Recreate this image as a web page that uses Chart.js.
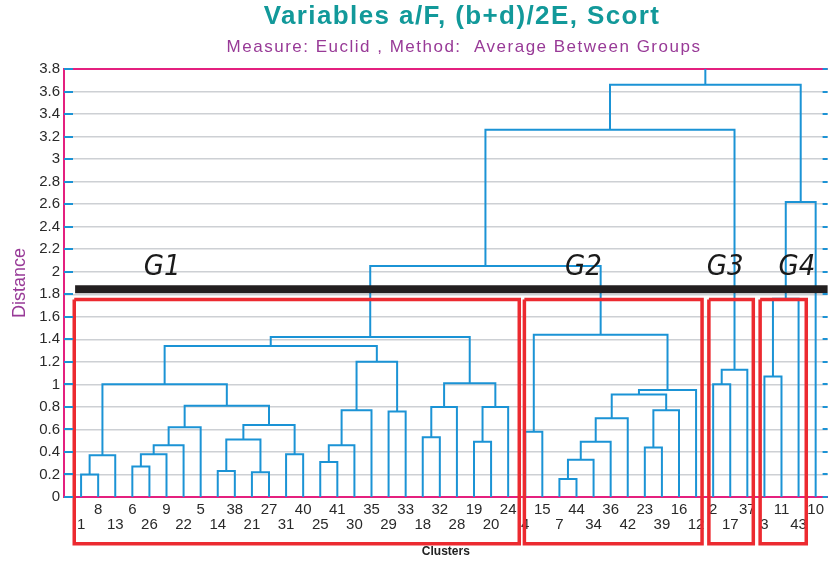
<!DOCTYPE html>
<html>
<head>
<meta charset="utf-8">
<title>Dendrogram</title>
<script src="https://cdn.jsdelivr.net/npm/chart.js@4.4.1/dist/chart.umd.min.js"></script>
<style>
  html, body { margin: 0; padding: 0; background: #fff; }
  canvas { display: block; }
</style>
</head>
<body>
<canvas id="myDendrogram" width="830" height="563"></canvas>
<script>
// leaf order along the bottom (cases)
const leaves = [1, 8, 13, 6, 26, 9, 22, 5, 14, 38, 21, 27, 31, 40, 25, 41, 30, 35, 29, 33,
  18, 32, 28, 19, 20, 24, 4, 15, 7, 44, 34, 36, 42, 23, 39, 16, 12, 2, 17, 37, 3, 11, 43, 10];

// merge steps: positive = case number, negative = earlier step (1-based)
const mergeA = [1, -1, 6, -3, -4, -5, 14, 21, -7, 31, -9, -6, -2, 25, -14, -15, 29, -16, -13,
  18, -20, 19, -22, -21, -19, 4, 7, -27, -28, -29, 23, -31, -30, -33, -26, -25, 2, -37, -36,
  3, -40, -41, -39];
const mergeB = [8, 13, 26, 9, 22, 5, 38, 27, -8, 40, -10, -11, -12, 41, 30, 35, 33, -17, -18,
  32, 28, 20, 24, -23, -24, 15, 44, 34, 36, 42, 39, 16, -32, 12, -34, -35, 17, 37, -38,
  11, 43, 10, -42];
const mergeHeight = [0.20, 0.37, 0.27, 0.38, 0.46, 0.62, 0.23, 0.22, 0.51, 0.38, 0.64, 0.81, 1.00,
  0.31, 0.46, 0.77, 0.76, 1.20, 1.34, 0.53, 0.80, 0.49, 0.80, 1.01, 1.42,
  0.58, 0.16, 0.33, 0.49, 0.70, 0.44, 0.77, 0.91, 0.95, 1.44, 2.05,
  1.00, 1.13, 3.26, 1.07, 1.76, 2.62, 3.66];

// distance axis
const yTicks = [0, 0.2, 0.4, 0.6, 0.8, 1, 1.2, 1.4, 1.6, 1.8, 2, 2.2, 2.4, 2.6, 2.8, 3, 3.2, 3.4, 3.6, 3.8];
const yTickLabels = ['0', '0.2', '0.4', '0.6', '0.8', '1', '1.2', '1.4', '1.6', '1.8', '2', '2.2', '2.4',
  '2.6', '2.8', '3', '3.2', '3.4', '3.6', '3.8'];

// cut line and the four groups (box edges in leaf units)
const cutHeight = 1.845;
const groupNames = ['G1', 'G2', 'G3', 'G4'];
const groupFrom = [-0.4, 25.95, 36.75, 39.75];
const groupTo = [25.65, 36.35, 39.35, 42.45];
const groupLabelAt = [4.75, 29.4, 37.7, 41.9];

const titleText = 'Variables a/F, (b+d)/2E, Scort';
const subtitleText = 'Measure: Euclid , Method:  Average Between Groups';

const blue = '#1b93d5';
const pink = '#e4207f';

// build the tree links from the merge table
const leafPos = {};
leaves.forEach((n, i) => { leafPos[n] = i; });
const nodeX = [], nodeY = [];
function childX(c) { return c > 0 ? leafPos[c] : nodeX[-c - 1]; }
function childY(c) { return c > 0 ? 0 : nodeY[-c - 1]; }

const treePoints = [];
mergeHeight.forEach((h, k) => {
  const a = mergeA[k], b = mergeB[k];
  const xa = childX(a), xb = childX(b);
  treePoints.push({x: xa, y: childY(a)}, {x: xa, y: h}, {x: xb, y: h}, {x: xb, y: childY(b)}, {x: xa, y: null});
  nodeX.push((xa + xb) / 2);
  nodeY.push(h);
});
const root = nodeX.length - 1;
treePoints.push({x: nodeX[root], y: nodeY[root]}, {x: nodeX[root], y: yTicks[yTicks.length - 1]});

const boxTop = 1.753, boxBottom = -0.415;
const boxPoints = [];
groupNames.forEach((g, i) => {
  const l = groupFrom[i], r = groupTo[i];
  boxPoints.push({x: l, y: boxTop}, {x: r, y: boxTop}, {x: r, y: boxBottom}, {x: l, y: boxBottom},
    {x: l, y: boxTop}, {x: l, y: null});
});

const xMin = -1, xMax = 43.7;

// titles, group names, inward blue ticks
const extrasPlugin = {
  id: 'extras',
  afterDraw(chart) {
    const c = chart.ctx;
    const xs = chart.scales.x, ys = chart.scales.y;
    const area = chart.chartArea;
    c.save();
    c.strokeStyle = blue;
    c.lineWidth = 2;
    ys.ticks.forEach(t => {
      const py = Math.round(ys.getPixelForValue(t.value));
      c.beginPath();
      c.moveTo(area.left, py); c.lineTo(area.left + 9, py);
      c.moveTo(area.right - 5, py); c.lineTo(area.right, py);
      c.stroke();
    });

    c.textAlign = 'center';
    c.textBaseline = 'middle';
    c.fillStyle = '#12999a';
    c.font = 'bold 26px "Liberation Sans", Arial, sans-serif';
    c.letterSpacing = '1.4px';
    c.fillText(titleText, 462, 17);
    c.fillStyle = '#983a97';
    c.font = '17px "Liberation Sans", Arial, sans-serif';
    c.letterSpacing = '1.5px';
    c.fillText(subtitleText, 464, 47);

    c.letterSpacing = '0px';
    c.fillStyle = '#1a1a1a';
    c.font = 'italic 29px "DejaVu Sans Condensed", "DejaVu Sans", sans-serif';
    groupNames.forEach((g, i) => {
      c.fillText(g, xs.getPixelForValue(groupLabelAt[i]), ys.getPixelForValue(2.04));
    });
    c.restore();
  }
};

const treeData = {
  datasets: [{
    label: 'groups',
    data: boxPoints,
    borderColor: '#ec2a30',
    borderWidth: 3.5,
    showLine: true,
    pointRadius: 0,
    spanGaps: false,
    clip: false,
    order: 1
  }, {
    label: 'cut',
    data: [{x: -0.35, y: cutHeight}, {x: xMax, y: cutHeight}],
    borderColor: '#231f20',
    borderWidth: 8,
    showLine: true,
    pointRadius: 0,
    clip: false,
    order: 2
  }, {
    label: 'tree',
    data: treePoints,
    borderColor: blue,
    borderWidth: 2,
    borderJoinStyle: 'miter',
    showLine: true,
    pointRadius: 0,
    spanGaps: false,
    order: 3
  }]
};

const treeConfig = {
  type: 'scatter',
  data: treeData,
  plugins: [extrasPlugin],
  options: {
    responsive: false,
    animation: false,
    layout: { padding: { top: 69, left: 0, right: 0, bottom: 0 } },
    plugins: {
      legend: { display: false },
      tooltip: { enabled: false },
      title: { display: false }
    },
    scales: {
      x: {
        type: 'linear',
        min: xMin,
        max: xMax,
        afterBuildTicks: (scale) => { scale.ticks = leaves.map((n, i) => ({value: i})); },
        afterFit: (scale) => { scale.height = 66; },
        grid: { display: false, drawTicks: false },
        border: { color: pink, width: 2 },
        ticks: {
          autoSkip: false,
          maxRotation: 0,
          minRotation: 0,
          padding: 6,
          color: '#2a2a2a',
          font: { family: '"Liberation Sans", Arial, sans-serif', size: 15, lineHeight: 0.96 },
          callback: (v, i) => i % 2 === 0 ? ['', String(leaves[i])] : String(leaves[i])
        },
        title: {
          display: true,
          text: 'Clusters',
          color: '#222',
          font: { family: '"Liberation Sans", Arial, sans-serif', size: 12, weight: 'bold' },
          padding: { top: 0, bottom: 4 }
        }
      },
      y: {
        min: 0,
        max: 3.8,
        afterBuildTicks: (scale) => { scale.ticks = yTicks.map(v => ({value: v})); },
        afterFit: (scale) => { scale.width = 64; },
        grid: {
          drawTicks: false,
          color: (ctx) => (ctx.tick && (ctx.tick.value === 0 || ctx.tick.value === 3.8)) ? pink : '#cdd0d4',
          lineWidth: (ctx) => (ctx.tick && (ctx.tick.value === 0 || ctx.tick.value === 3.8)) ? 2 : 1.5
        },
        border: { color: pink, width: 2 },
        ticks: {
          padding: 4,
          color: '#2a2a2a',
          font: { family: '"Liberation Sans", Arial, sans-serif', size: 15 },
          callback: (v, i) => yTickLabels[i]
        },
        title: {
          display: true,
          text: 'Distance',
          color: '#983a97',
          font: { family: '"Liberation Sans", Arial, sans-serif', size: 18 },
          padding: { top: 9, bottom: 0 }
        }
      }
    }
  }
};

const myDendrogram = new Chart(document.getElementById('myDendrogram'), treeConfig);
</script>
</body>
</html>
